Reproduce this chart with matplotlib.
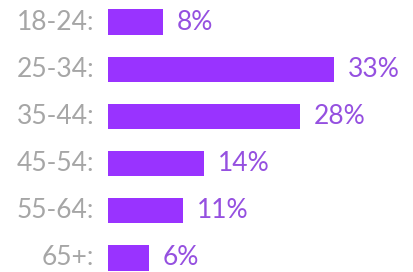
import matplotlib
matplotlib.use("Agg")
import matplotlib.pyplot as plt

age_groups = ["18-24:", "25-34:", "35-44:", "45-54:", "55-64:", "65+:"]
shares = [8, 33, 28, 14, 11, 6]

BAR_COLOR = "#9933ff"
VALUE_COLOR = "#9550e0"
LABEL_COLOR = "#a6a6a6"

plt.rcParams["font.family"] = ["Lato", "DejaVu Sans"]

fig = plt.figure(figsize=(4.13, 2.72), dpi=100)
ax = fig.add_axes([0, 0, 1, 1])

px_per_unit = 6.85
ax.set_xlim(-108 / px_per_unit, 305 / px_per_unit)
ax.set_ylim(5.3, -0.47)

ypos = list(range(len(age_groups)))
ax.barh(ypos, shares, height=0.54, color=BAR_COLOR)

for y, label, val in zip(ypos, age_groups, shares):
    ax.annotate(label, (0, y), xytext=(-10, 0), textcoords="offset points",
                ha="right", va="center", fontsize=19, color=LABEL_COLOR)
    ax.annotate(f"{val}%", (val, y), xytext=(10, 0), textcoords="offset points",
                ha="left", va="center", fontsize=19, color=VALUE_COLOR)

ax.axis("off")
fig.savefig("out.png", dpi=100)
